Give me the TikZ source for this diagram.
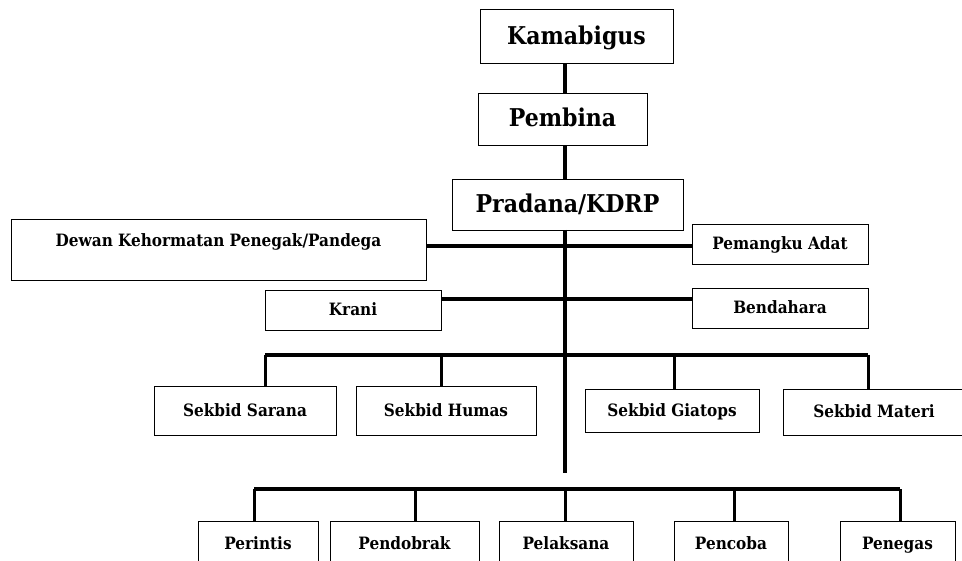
\documentclass[tikz,border=0pt]{standalone}
\usepackage{fontspec}
\setmainfont{DejaVu Serif Condensed}
\begin{document}
\begin{tikzpicture}[x=1pt, y=-1pt,
  box/.style={draw, line width=0.9pt, rectangle, inner sep=0pt, text height=12, text depth=0, font=\fontsize{17}{20}\selectfont\bfseries},
  bigbox/.style={box, text height=18, text depth=2, font=\fontsize{24.5}{29}\selectfont\bfseries},
  conn/.style={line width=3.5pt},
  bar/.style={line width=4pt},
  drop/.style={line width=3pt}]
\useasboundingbox (0,0) rectangle (962,561);

% Top of the chart
\node[bigbox, minimum width=193, minimum height=53.5] (kama) at (576.5,36.25) {Kamabigus};
\node[bigbox, minimum width=169, minimum height=52] (pembina) at (562.5,119) {Pembina};
\node[bigbox, minimum width=231, minimum height=51] (pradana) at (567.5,204.5) {Pradana/KDRP};
\draw[conn] (kama.south -| 565,0) -- (pembina.north -| 565,0);
\draw[conn] (pembina.south -| 565,0) -- (pradana.north -| 565,0);

% Trunk and junctions
\coordinate (top) at (565,230);
\coordinate (j1) at (565,246);
\coordinate (j2) at (565,299);
\coordinate (j3) at (565,355);
\coordinate (bottom) at (565,473);
\draw[conn] (top) -- (bottom);

% Dewan and Pemangku Adat
\node[box, minimum width=415, minimum height=0, text height=28, text depth=33] (dewan) at (218.5,249.5) {Dewan Kehormatan Penegak/Pandega};
\node[box, minimum width=176, minimum height=40] (adat) at (780,244) {Pemangku Adat};
\draw[bar] (dewan.east |- j1) -- (adat.west |- j1);

% Krani and Bendahara
\node[box, minimum width=176, minimum height=40] (krani) at (353,310) {Krani};
\node[box, minimum width=176, minimum height=40] (bendahara) at (780,308) {Bendahara};
\draw[bar] (krani.east |- j2) -- (bendahara.west |- j2);

% Sekbid row
\node[box, minimum width=182, minimum height=49] (sarana) at (245,410.5) {Sekbid Sarana};
\node[box, minimum width=180, minimum height=49] (humas) at (446,410.5) {Sekbid Humas};
\node[box, minimum width=174, minimum height=43] (giatops) at (672,410.5) {Sekbid Giatops};
\node[box, minimum width=182, minimum height=46] (materi) at (874,412) {Sekbid Materi};
\coordinate (s1) at (265,355);
\coordinate (s2) at (441,355);
\coordinate (s3) at (674,355);
\coordinate (s4) at (868,355);
\draw[bar] (s1) -- (s4);
\draw[drop] (s1) -- (s1 |- sarana.north);
\draw[drop] (s2) -- (s2 |- humas.north);
\draw[drop] (s3) -- (s3 |- giatops.north);
\draw[drop] (s4) -- (s4 |- materi.north);

% Bottom row
\node[box, minimum width=120, minimum height=44] (perintis) at (258,543) {Perintis};
\node[box, minimum width=149, minimum height=44] (pendobrak) at (404.5,543) {Pendobrak};
\node[box, minimum width=134, minimum height=44] (pelaksana) at (566,543) {Pelaksana};
\node[box, minimum width=114, minimum height=44] (pencoba) at (731,543) {Pencoba};
\node[box, minimum width=115, minimum height=44] (penegas) at (897.5,543) {Penegas};
\coordinate (b1) at (254,489);
\coordinate (b2) at (415,489);
\coordinate (b3) at (565,489);
\coordinate (b4) at (734,489);
\coordinate (b5) at (900,489);
\draw[bar] (b1) -- (b5);
\draw[drop] (b1) -- (b1 |- perintis.north);
\draw[drop] (b2) -- (b2 |- pendobrak.north);
\draw[drop] (b3) -- (b3 |- pelaksana.north);
\draw[drop] (b4) -- (b4 |- pencoba.north);
\draw[drop] (b5) -- (b5 |- penegas.north);

\end{tikzpicture}
\end{document}
